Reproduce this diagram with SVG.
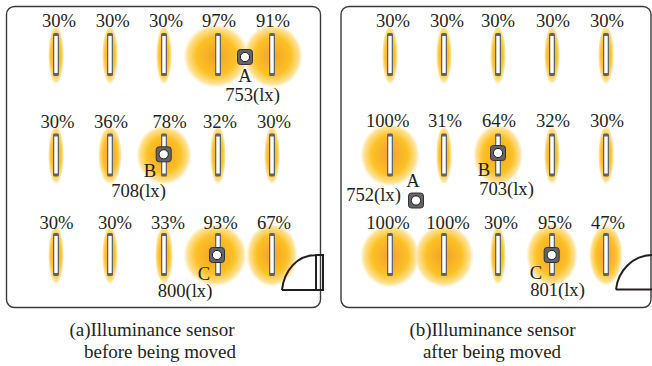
<svg xmlns="http://www.w3.org/2000/svg" xmlns:xlink="http://www.w3.org/1999/xlink" width="652" height="366" viewBox="0 0 652 366">
<style>
text{font-family:"Liberation Serif","Times New Roman",serif;font-size:18.6px;fill:#231f20;text-anchor:middle}
.c{font-size:19px}
.p{fill:#fff;stroke:#3a3a3c;stroke-width:1.4}
.d{fill:none;stroke:#231f20;stroke-width:2}
</style>
<defs>
<radialGradient id="g"><stop offset="0" stop-color="#f3a02a"/><stop offset=".6" stop-color="#fcc125"/><stop offset=".88" stop-color="#fee39a"/><stop offset="1" stop-color="#fff5dc" stop-opacity=".1"/></radialGradient>
<g id="s"><rect x="-7.500" y="-7.500" width="15" height="15" rx="3" fill="#636466" stroke="#333" stroke-width="1"/><circle r="4.6" fill="#fff" stroke="#222" stroke-width="1"/></g>
<g id="f"><rect x="-3" y="-21.500" width="6" height="43" rx="1.500" fill="#636466"/><rect x="-1.700" y="-18.500" width="3.400" height="37" fill="#fff"/></g>
</defs>
<rect class="p" x="6.500" y="6.500" width="314" height="301" rx="8"/>
<rect class="p" x="341" y="6.500" width="310" height="301" rx="8"/>
<g id="glow">
<ellipse cx="56" cy="55" rx="8" ry="30" fill="url(#g)"/><ellipse cx="110" cy="55" rx="8" ry="30" fill="url(#g)"/><ellipse cx="164" cy="55" rx="8" ry="30" fill="url(#g)"/><ellipse cx="216" cy="56" rx="33" ry="32" fill="url(#g)"/><ellipse cx="273" cy="56" rx="30" ry="32" fill="url(#g)"/>
<ellipse cx="56" cy="155" rx="8" ry="30" fill="url(#g)"/><ellipse cx="110" cy="155" rx="12" ry="30" fill="url(#g)"/><ellipse cx="164" cy="155" rx="28" ry="30" fill="url(#g)"/><ellipse cx="218" cy="155" rx="8" ry="30" fill="url(#g)"/><ellipse cx="272" cy="155" rx="8" ry="30" fill="url(#g)"/>
<ellipse cx="56" cy="255" rx="8" ry="30" fill="url(#g)"/><ellipse cx="110" cy="255" rx="8" ry="30" fill="url(#g)"/><ellipse cx="164" cy="255" rx="9" ry="30" fill="url(#g)"/><ellipse cx="215" cy="255" rx="32" ry="32" fill="url(#g)"/><ellipse cx="272" cy="255" rx="26" ry="32" fill="url(#g)"/>
<ellipse cx="390" cy="55" rx="8" ry="30" fill="url(#g)"/><ellipse cx="444" cy="55" rx="8" ry="30" fill="url(#g)"/><ellipse cx="498" cy="55" rx="8" ry="30" fill="url(#g)"/><ellipse cx="552" cy="55" rx="8" ry="30" fill="url(#g)"/><ellipse cx="606" cy="55" rx="8" ry="30" fill="url(#g)"/>
<ellipse cx="390" cy="155" rx="30" ry="32" fill="url(#g)"/><ellipse cx="444" cy="155" rx="8" ry="30" fill="url(#g)"/><ellipse cx="498" cy="155" rx="25" ry="31" fill="url(#g)"/><ellipse cx="552" cy="155" rx="8" ry="30" fill="url(#g)"/><ellipse cx="606" cy="155" rx="8" ry="30" fill="url(#g)"/>
<ellipse cx="390" cy="256" rx="30" ry="32" fill="url(#g)"/><ellipse cx="444" cy="256" rx="30" ry="32" fill="url(#g)"/><ellipse cx="498" cy="255" rx="8" ry="30" fill="url(#g)"/><ellipse cx="552" cy="255" rx="26" ry="32" fill="url(#g)"/><ellipse cx="606" cy="255" rx="17" ry="31" fill="url(#g)"/>
</g>
<g id="lamps">
<use xlink:href="#f" x="56" y="54.500"/><use xlink:href="#f" x="110" y="54.500"/><use xlink:href="#f" x="164" y="54.500"/><use xlink:href="#f" x="218" y="54.500"/><use xlink:href="#f" x="272" y="54.500"/>
<use xlink:href="#f" x="56" y="155"/><use xlink:href="#f" x="110" y="155"/><use xlink:href="#f" x="164" y="155"/><use xlink:href="#f" x="218" y="155"/><use xlink:href="#f" x="272" y="155"/>
<use xlink:href="#f" x="56" y="254.500"/><use xlink:href="#f" x="110" y="254.500"/><use xlink:href="#f" x="164" y="254.500"/><use xlink:href="#f" x="218" y="254.500"/><use xlink:href="#f" x="272" y="254.500"/>
<use xlink:href="#f" x="390" y="54.500"/><use xlink:href="#f" x="444" y="54.500"/><use xlink:href="#f" x="498" y="54.500"/><use xlink:href="#f" x="552" y="54.500"/><use xlink:href="#f" x="606" y="54.500"/>
<use xlink:href="#f" x="390" y="155"/><use xlink:href="#f" x="444" y="155"/><use xlink:href="#f" x="498" y="155"/><use xlink:href="#f" x="552" y="155"/><use xlink:href="#f" x="606" y="155"/>
<use xlink:href="#f" x="390" y="254.500"/><use xlink:href="#f" x="444" y="254.500"/><use xlink:href="#f" x="498" y="254.500"/><use xlink:href="#f" x="552" y="254.500"/><use xlink:href="#f" x="606" y="254.500"/>
</g>
<g id="sensors">
<use xlink:href="#s" x="245" y="57"/><use xlink:href="#s" x="163.700" y="154.300"/><use xlink:href="#s" x="217" y="255"/>
<use xlink:href="#s" x="416" y="200.500"/><use xlink:href="#s" x="498" y="153"/><use xlink:href="#s" x="551.700" y="255"/>
</g>
<g id="doors">
<path class="d" d="M282 290H323V255H316V290M316 255C297 255 284 271 282 290"/>
<path class="d" d="M616 289.500H652M652 255C633 255 618 271 616 289.500"/>
</g>
<g id="percent">
<text x="59" y="27">30%</text><text x="112.700" y="27">30%</text><text x="166" y="27">30%</text><text x="219" y="27">97%</text><text x="273" y="27">91%</text>
<text x="57.500" y="128">30%</text><text x="111" y="128">36%</text><text x="169.600" y="128">78%</text><text x="220" y="128">32%</text><text x="274" y="128">30%</text>
<text x="56.500" y="229">30%</text><text x="115" y="229">30%</text><text x="168" y="229">33%</text><text x="220.600" y="229">93%</text><text x="274" y="229">67%</text>
<text x="393" y="27">30%</text><text x="447" y="27">30%</text><text x="498" y="27">30%</text><text x="553" y="27">30%</text><text x="607" y="27">30%</text>
<text x="387.700" y="127">100%</text><text x="445" y="127">31%</text><text x="499" y="127">64%</text><text x="553" y="127">32%</text><text x="607" y="127">30%</text>
<text x="388" y="228.500">100%</text><text x="448" y="228.500">100%</text><text x="501" y="228.500">30%</text><text x="555" y="228.500">95%</text><text x="608" y="228.500">47%</text>
</g>
<g id="labels">
<text x="245" y="81.500">A</text><text x="252.500" y="100.700">753(lx)</text>
<text x="150" y="176.700">B</text><text x="138.500" y="197">708(lx)</text>
<text x="204" y="280">C</text><text x="185" y="296.700">800(lx)</text>
<text x="413" y="186.700">A</text><text x="373.500" y="200.700">752(lx)</text>
<text x="484" y="176">B</text><text x="506.500" y="195">703(lx)</text>
<text x="536" y="279">C</text><text x="557.500" y="296">801(lx)</text>
<text class="c" x="152" y="336">(a)Illuminance sensor</text><text class="c" x="160" y="358">before being moved</text>
<text class="c" x="492.500" y="336">(b)Illuminance sensor</text><text class="c" x="492" y="358">after being moved</text>
</g>
</svg>
